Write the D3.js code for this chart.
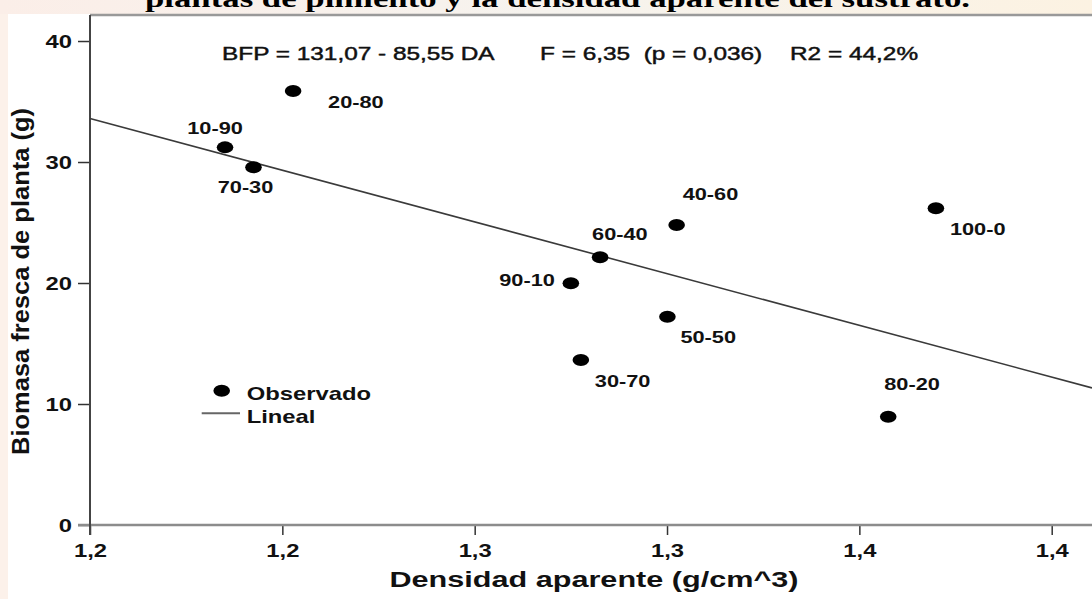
<!DOCTYPE html>
<html>
<head>
<meta charset="utf-8">
<script src="https://cdn.jsdelivr.net/npm/d3@7"></script>
<style>
  body { margin: 0; background: #fcf1ea; }
  svg { display: block; font-family: "Liberation Sans", Arial, sans-serif; }
</style>
</head>
<body>
<svg id="chart" width="1092" height="599"></svg>
<script>
// data
const treatments = ["10-90", "70-30", "20-80", "40-60", "60-40", "90-10", "50-50", "30-70", "100-0", "80-20"];
const density = [1.1851, 1.1925, 1.2028, 1.3025, 1.2826, 1.2750, 1.3001, 1.2776, 1.3699, 1.3575];
const biomass = [31.21, 29.56, 35.87, 24.79, 22.12, 19.98, 17.21, 13.64, 26.17, 8.95];
const xTicks = [1.15, 1.20, 1.25, 1.30, 1.35, 1.40];
const xTickLabels = ["1,2", "1,2", "1,3", "1,3", "1,4", "1,4"];
const yTicks = [0, 10, 20, 30, 40];
const fitText = ["BFP = 131,07 - 85,55 DA", "F = 6,35  (p = 0,036)", "R2 = 44,2%"];
const legendItems = ["Observado", "Lineal"];
const titleText = "plantas de pimiento y la densidad aparente del sustrato.";

const width = 1092, height = 599;
const k = 1.36; // the original picture is stretched sideways

const svg = d3.select("#chart");

// scales
const x = d3.scaleLinear().domain([1.15, 1.40]).range([90, 1051.7]);
const yMax = 42.15;
const y = d3.scaleLinear().domain([0, yMax]).range([525, 15]);

// background: white panel inside a pale page
const grad = svg.append("defs").append("linearGradient").attr("id", "band");
grad.append("stop").attr("offset", "0%").attr("stop-color", "#fbeee8");
grad.append("stop").attr("offset", "50%").attr("stop-color", "#f6f3ee");
grad.append("stop").attr("offset", "100%").attr("stop-color", "#fcf2e2");
svg.append("rect").attr("width", width).attr("height", 14).attr("fill", "url(#band)");
svg.append("rect").attr("x", 8).attr("y", 14).attr("width", width - 8).attr("height", height - 14).attr("fill", "#fff");

// title, cut off at the very top like in the source
svg.append("text")
  .attr("x", 145).attr("y", 7)
  .attr("font-family", "'Liberation Serif', 'Times New Roman', serif")
  .attr("font-weight", "bold").attr("font-size", 26)
  .attr("textLength", 825).attr("lengthAdjust", "spacingAndGlyphs")
  .text(titleText);

// frame top
svg.append("line")
  .attr("x1", x(1.15)).attr("x2", width)
  .attr("y1", y(yMax)).attr("y2", y(yMax))
  .attr("stroke", "#999").attr("stroke-width", 2.5);

// y axis
const yAxis = svg.append("g")
  .attr("transform", `translate(${x(1.15)},0)`)
  .call(d3.axisLeft(y).tickValues(yTicks).tickSize(12).tickFormat(d3.format("d")))
  .attr("font-size", null).attr("font-family", null);
yAxis.select(".domain").remove();
yAxis.selectAll(".tick line").attr("stroke", "#333").attr("stroke-width", 1.5);
yAxis.selectAll(".tick text")
  .attr("x", null).attr("dy", null)
  .attr("transform", `translate(-18,6.3) scale(${k},1)`)
  .attr("font-size", 17.5).attr("font-weight", "bold").attr("fill", "#111");

// x axis
const xAxis = svg.append("g")
  .attr("transform", `translate(0,${y(0)})`)
  .call(d3.axisBottom(x).tickValues(xTicks).tickSize(10).tickFormat((d, i) => xTickLabels[i]))
  .attr("font-size", null).attr("font-family", null);
xAxis.select(".domain").remove();
xAxis.selectAll(".tick line").attr("stroke", "#333").attr("stroke-width", 1.5);
xAxis.selectAll(".tick text")
  .attr("y", null).attr("dy", null)
  .attr("transform", `translate(0,31.5) scale(${k},1)`)
  .attr("font-size", 17.5).attr("font-weight", "bold").attr("fill", "#111");

// axis lines
svg.append("line")
  .attr("x1", x(1.15) - 12).attr("x2", width)
  .attr("y1", y(0)).attr("y2", y(0))
  .attr("stroke", "#8c8c8c").attr("stroke-width", 2.5);
svg.append("line")
  .attr("x1", x(1.15)).attr("x2", x(1.15))
  .attr("y1", y(yMax)).attr("y2", y(0) + 10)
  .attr("stroke", "#444").attr("stroke-width", 2);

// least squares line through the points
const mx = d3.mean(density), my = d3.mean(biomass);
const slope = d3.sum(density, (d, i) => (d - mx) * (biomass[i] - my)) /
              d3.sum(density, d => (d - mx) * (d - mx));
const fit = v => my + slope * (v - mx);
const xEnd = x.invert(width);

svg.append("line")
  .attr("x1", x(1.15)).attr("y1", y(fit(1.15)))
  .attr("x2", x(xEnd)).attr("y2", y(fit(xEnd)))
  .attr("stroke", "#3a3a3a").attr("stroke-width", 1.6);

// points
const pts = density.map((d, i) => ({ name: treatments[i], dx: d, bf: biomass[i] }));
svg.selectAll(".dot")
  .data(pts)
  .join("ellipse")
  .attr("class", "dot")
  .attr("cx", d => x(d.dx))
  .attr("cy", d => y(d.bf))
  .attr("rx", 8.3).attr("ry", 6)
  .attr("fill", "#000");

// where each label sits next to its point
const labelPlacement = {
  "10-90": [-10, -19, "middle"],
  "70-30": [-8, 20, "middle"],
  "20-80": [35, 11, "start"],
  "40-60": [6, -31, "start"],
  "60-40": [-8, -23, "start"],
  "90-10": [-16, -3, "end"],
  "50-50": [13, 20, "start"],
  "30-70": [14, 21, "start"],
  "100-0": [14, 21, "start"],
  "80-20": [-4, -33, "start"]
};

svg.selectAll(".lbl")
  .data(pts)
  .join("text")
  .attr("class", "lbl")
  .attr("transform", d => {
    const p = labelPlacement[d.name];
    return `translate(${x(d.dx) + p[0]},${y(d.bf) + p[1] + 5.8}) scale(${k},1)`;
  })
  .attr("text-anchor", d => labelPlacement[d.name][2])
  .attr("font-size", 16).attr("font-weight", "bold").attr("fill", "#111")
  .text(d => d.name);

// fit statistics
const fitX = [222, 540, 790];
svg.selectAll(".fit")
  .data(fitText)
  .join("text")
  .attr("class", "fit")
  .attr("transform", (d, i) => `translate(${fitX[i]},60) scale(${k - 0.005},1)`)
  .attr("font-size", 18).attr("fill", "#111")
  .attr("stroke", "#111").attr("stroke-width", 0.45)
  .style("white-space", "pre")
  .text(d => d);

// legend
const leg = svg.append("g");
leg.append("ellipse").attr("cx", 221.7).attr("cy", 390.7).attr("rx", 8.3).attr("ry", 6).attr("fill", "#000");
leg.append("line").attr("x1", 201.7).attr("x2", 240).attr("y1", 413.3).attr("y2", 413.3)
  .attr("stroke", "#666").attr("stroke-width", 2);
leg.selectAll("text")
  .data(legendItems)
  .join("text")
  .attr("transform", (d, i) => `translate(246.7,${i === 0 ? 399.5 : 422.5}) scale(${k},1)`)
  .attr("font-size", 17.5).attr("font-weight", "bold").attr("fill", "#111")
  .text(d => d);

// axis titles
svg.append("text")
  .attr("x", 594).attr("y", 587)
  .attr("text-anchor", "middle")
  .attr("font-size", 22).attr("font-weight", "bold").attr("fill", "#111")
  .attr("textLength", 409).attr("lengthAdjust", "spacingAndGlyphs")
  .text("Densidad aparente (g/cm^3)");

svg.append("text")
  .attr("transform", "translate(29,281.5) rotate(-90)")
  .attr("text-anchor", "middle")
  .attr("font-size", 24).attr("font-weight", "bold").attr("fill", "#111")
  .attr("textLength", 347).attr("lengthAdjust", "spacingAndGlyphs")
  .text("Biomasa fresca de planta (g)");
</script>
</body>
</html>
